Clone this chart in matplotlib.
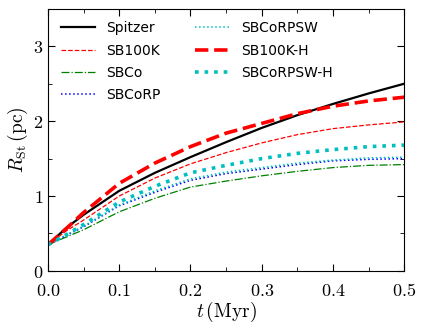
import numpy as np
import matplotlib
matplotlib.use('Agg')
import matplotlib.pyplot as plt
from matplotlib.ticker import MultipleLocator, FuncFormatter

plt.rcParams['mathtext.fontset'] = 'cm'

# Time samples (Myr)
t = [0.0, 0.025, 0.05, 0.1, 0.15, 0.2, 0.25, 0.3, 0.35, 0.4, 0.45, 0.5]

# Stromgren radius (pc)
r_spitzer = [0.35, 0.57, 0.75, 1.07, 1.31, 1.52, 1.72, 1.91, 2.08, 2.23, 2.37, 2.50]
r_sb100k = [0.35, 0.53, 0.68, 1.00, 1.24, 1.43, 1.58, 1.71, 1.82, 1.90, 1.95, 1.99]
r_sbco = [0.35, 0.45, 0.55, 0.79, 0.97, 1.12, 1.20, 1.27, 1.33, 1.38, 1.41, 1.42]
r_sbcorp = [0.35, 0.47, 0.59, 0.87, 1.05, 1.21, 1.30, 1.36, 1.42, 1.47, 1.49, 1.50]
r_sbcorpsw = [0.35, 0.48, 0.60, 0.88, 1.07, 1.23, 1.32, 1.38, 1.44, 1.48, 1.51, 1.52]
r_sb100k_h = [0.35, 0.56, 0.78, 1.17, 1.44, 1.66, 1.84, 1.97, 2.10, 2.20, 2.27, 2.32]
r_sbcorpsw_h = [0.35, 0.48, 0.62, 0.92, 1.13, 1.31, 1.41, 1.50, 1.57, 1.62, 1.66, 1.68]

fig = plt.figure(figsize=(4.25, 3.28), dpi=100)
ax = fig.add_axes([0.113, 0.174, 0.838, 0.799])

ax.plot(t, r_spitzer, color='k', ls='-', lw=1.6, label='Spitzer')
ax.plot(t, r_sb100k, color='r', ls='--', lw=0.9, label='SB100K')
ax.plot(t, r_sbco, color='g', ls='-.', lw=0.9, label='SBCo')
ax.plot(t, r_sbcorp, color='b', ls=':', lw=1.1, label='SBCoRP')
ax.plot(t, r_sbcorpsw, color='c', ls=':', lw=1.1, label='SBCoRPSW')
ax.plot(t, r_sb100k_h, color='r', ls='--', lw=2.6, label='SB100K-H')
ax.plot(t, r_sbcorpsw_h, color='c', ls=':', lw=2.6, label='SBCoRPSW-H')

ax.set_xlim(0, 0.5)
ax.set_ylim(0, 3.5)
ax.xaxis.set_major_locator(MultipleLocator(0.1))
ax.xaxis.set_minor_locator(MultipleLocator(0.05))
ax.yaxis.set_major_locator(MultipleLocator(1))
ax.yaxis.set_minor_locator(MultipleLocator(0.5))
ax.xaxis.set_major_formatter(FuncFormatter(lambda v, p: r'$%.1f$' % v))
ax.yaxis.set_major_formatter(FuncFormatter(lambda v, p: r'$%d$' % v))
ax.tick_params(which='both', direction='in', top=True, right=True, labelsize=13)
ax.tick_params(which='major', length=5)
ax.tick_params(which='minor', length=3)
ax.tick_params(axis='x', pad=8)

ax.set_xlabel(r'$t\,(\mathrm{Myr})$', fontsize=14, labelpad=0)
ax.set_ylabel(r'$R_{\mathrm{St}}\,(\mathrm{pc})$', fontsize=14, labelpad=2)

ax.legend(loc='upper left', ncol=2, frameon=False, fontsize=10,
          handlelength=2.5, columnspacing=2.5, labelspacing=0.6)

fig.savefig('out.png', dpi=100)
